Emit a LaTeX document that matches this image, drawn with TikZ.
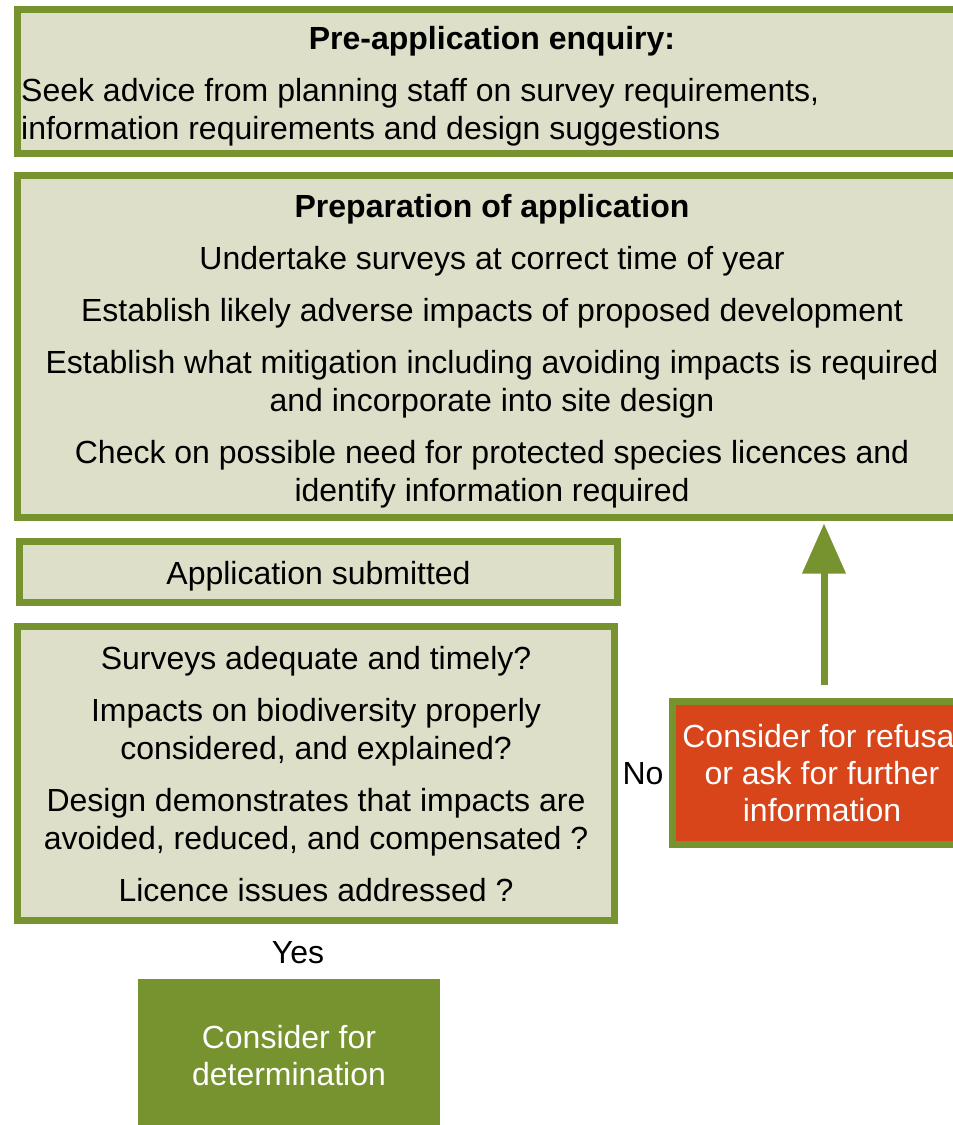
\documentclass[tikz,border=0pt]{standalone}
\usepackage{fontspec}
\setmainfont{Liberation Sans}
\usetikzlibrary{arrows.meta}
\definecolor{gborder}{HTML}{77932F}
\definecolor{lfill}{HTML}{DDDFC8}
\definecolor{rfill}{HTML}{D8451B}
\begin{document}
\begin{tikzpicture}[x=1pt,y=-1pt,
  txt/.style={font=\fontsize{32}{38}\selectfont},
  box/.style={draw=gborder, line width=7pt, fill=lfill, inner sep=0pt, align=center, txt},
  redbox/.style={draw=gborder, line width=7pt, fill=rfill, text=white, inner sep=0pt, align=center, font=\fontsize{32}{37}\selectfont},
  greenbox/.style={fill=gborder, text=white, inner sep=0pt, align=center, font=\fontsize{32}{37}\selectfont},
  lbl/.style={inner sep=0pt, txt},
  flow/.style={draw=gborder, line width=7pt, -{Triangle[length=50pt,width=42pt]}}]
\useasboundingbox (0,0) rectangle (953,1125);
\clip (0,0) rectangle (953,1125);
\node[box, minimum width=950pt, minimum height=144pt] (pre) at (492,81.5) {};
\node[lbl, font=\fontsize{32}{38}\selectfont\bfseries] (pretitle) at (492,41) {Pre-application enquiry:};
\node[lbl, align=left, anchor=west] (pretext) at (21,112)
  {Seek advice from planning staff on survey requirements,\\
   information requirements and design suggestions};
\node[box, minimum width=950pt, minimum height=342pt] (prep) at (492,346.5) {};
\node[lbl, align=center] (preptext) at (492,351.5)
  {\bfseries Preparation of application\\[14pt]
   Undertake surveys at correct time of year\\[14pt]
   Establish likely adverse impacts of proposed development\\[14pt]
   Establish what mitigation including avoiding impacts is required\\
   and incorporate into site design\\[14pt]
   Check on possible need for protected species licences and\\
   identify information required};
\node[box, minimum width=598pt, minimum height=61pt] (sub) at (318.5,572) {};
\node[lbl] (subtext) at (318.5,576) {Application submitted};
\node[box, minimum width=597pt, minimum height=294pt] (chk) at (316,773) {};
\node[lbl, align=center] (chktext) at (316,774.5)
  {Surveys adequate and timely?\\[14pt]
   Impacts on biodiversity properly\\
   considered, and explained?\\[14pt]
   Design demonstrates that impacts are\\
   avoided, reduced, and compensated ?\\[14pt]
   Licence issues addressed ?};
\node[redbox, minimum width=299pt, minimum height=143pt] (ref) at (822,773)
  {\makebox[0pt][c]{Consider for refusal}\\or ask for further\\information};
\node[greenbox, minimum width=302pt, minimum height=153pt] (det) at (289,1055.5)
  {Consider for\\determination};
\node[lbl] (no) at (643,774) {No};
\node[lbl] (yes) at (298,953) {Yes};
\draw[flow, shorten <=13.5pt, shorten >=2.5pt] ([xshift=2pt]ref.north) -- ([xshift=2pt]ref.north |- prep.south);
\end{tikzpicture}
\end{document}
